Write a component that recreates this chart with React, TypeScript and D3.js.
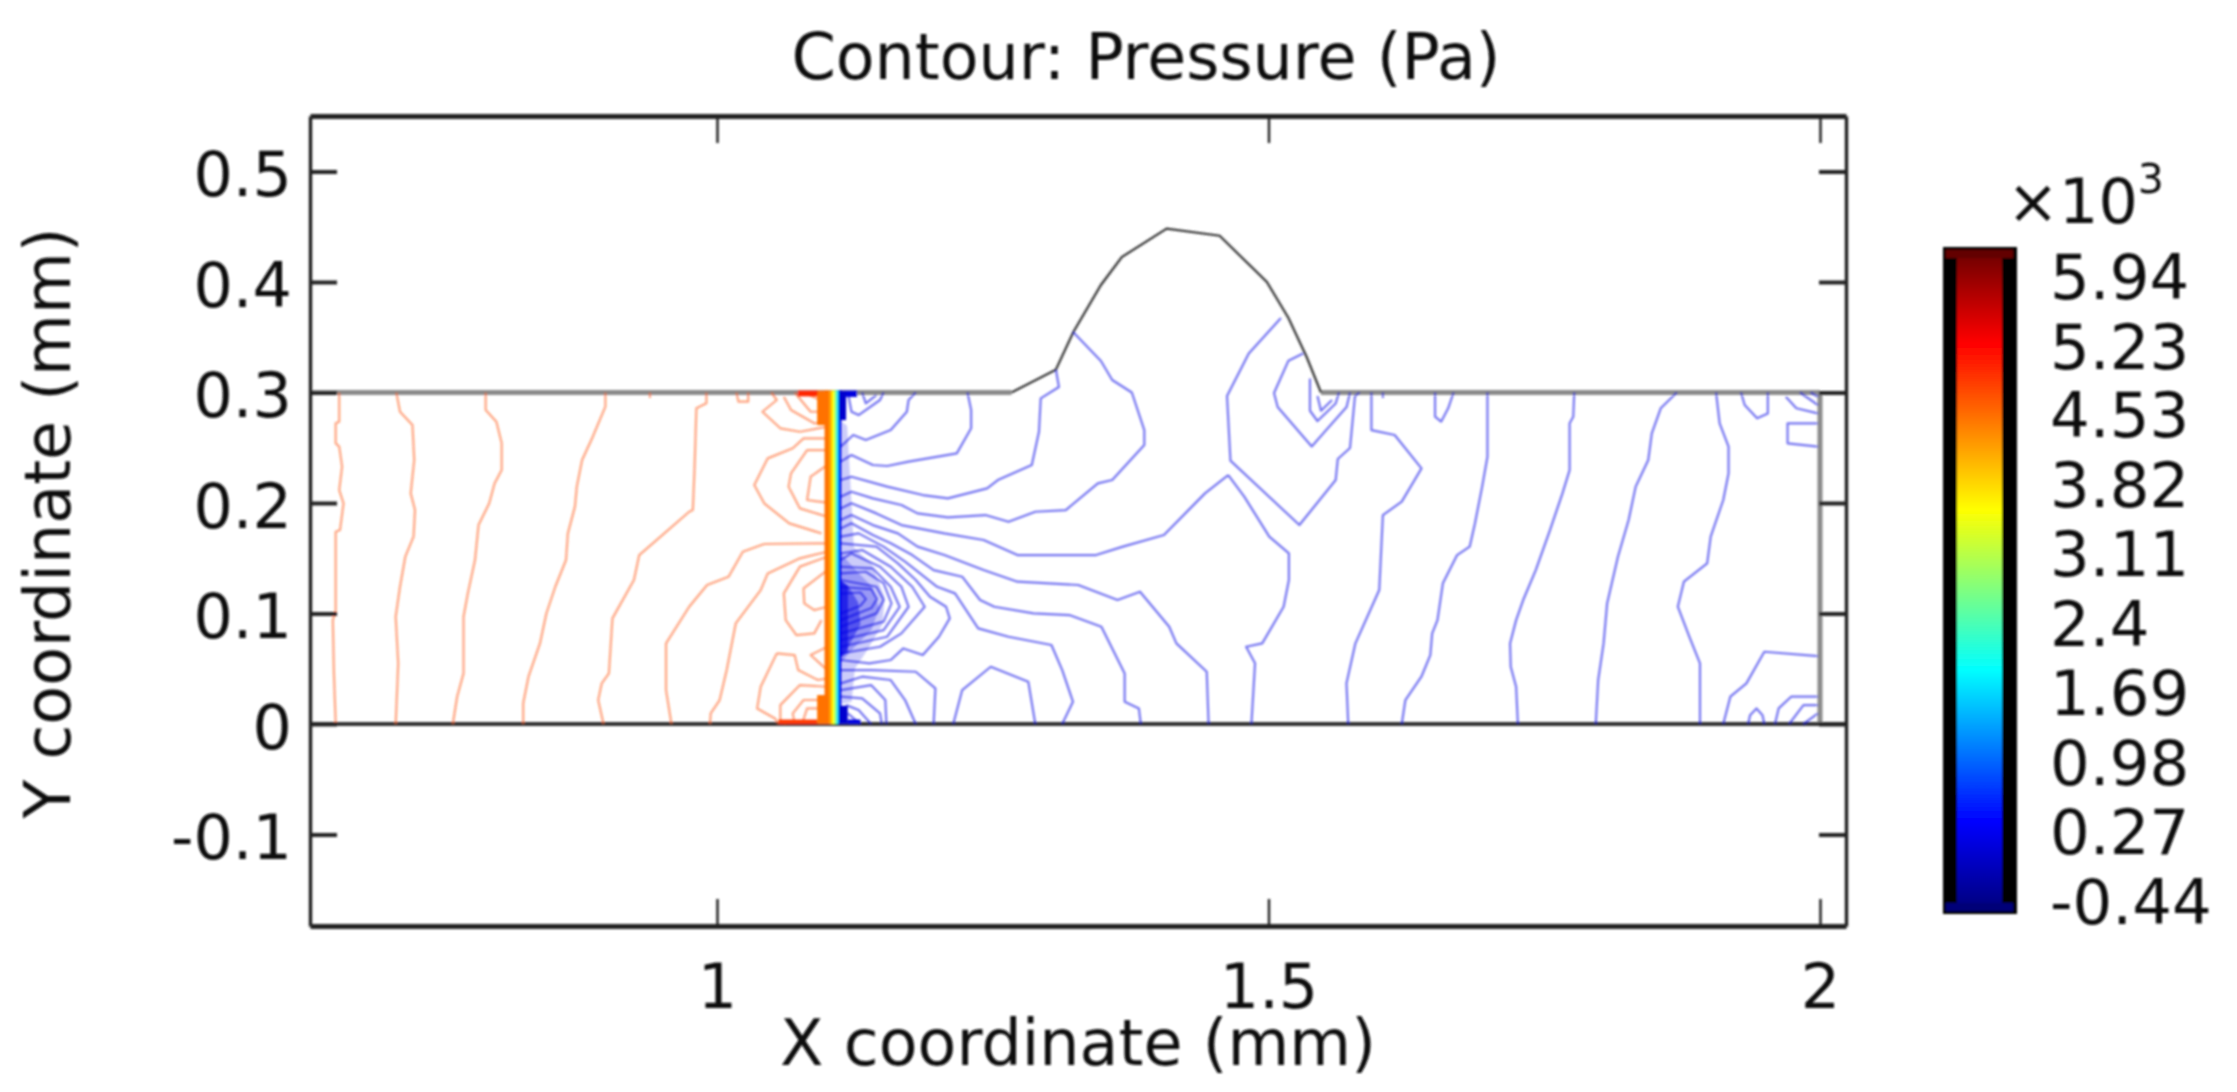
import { useEffect, useRef } from 'react';
import * as d3 from 'd3';

type Pt = [number, number];

const yTicks = [-0.1, 0, 0.1, 0.2, 0.3, 0.4, 0.5];
const xTicks = [1, 1.5, 2];
const barLabels = ['5.94', '5.23', '4.53', '3.82', '3.11', '2.4', '1.69', '0.98', '0.27', '-0.44'];

// jet ramp (x10^3 Pa)
const jetValues = [-0.587, 0.33, 1.9, 3.55, 5.27, 6.23];
const jetColors = ['#00007a', '#0000ff', '#00ffff', '#ffff00', '#ff0000', '#6a0000'];

// hill outline of the upper wall (mm)
const hill: Pt[] = [[1.267, 0.3], [1.3072, 0.3207], [1.3231, 0.3548], [1.3481, 0.3973], [1.367, 0.4226], [1.4077, 0.4483], [1.4557, 0.4419], [1.4985, 0.4], [1.5181, 0.3674], [1.5346, 0.3321], [1.5476, 0.3]];

// dense levels packed at the front, x position and level
const frontX = [1.0975, 1.1015, 1.104, 1.1065, 1.1085, 1.1095, 1.1106, 1.1122];
const frontLevel = [4.5, 4.2, 3.55, 2.7, 1.9, 1.1, 0.2, 0];

// merged contour patches in the corners of the front: x0, x1, y0, y1, level
const patches = [
  [1.0908, 1.1011, 0.2705, 0.3, 4.5],
  [1.0908, 1.1011, 0, 0.0262, 4.5],
  [1.0733, 1.0911, 0.2965, 0.3, 5.0],
  [1.0558, 1.0908, 0, 0.004, 4.9],
  [1.1106, 1.117, 0.275, 0.3, 0.0],
  [1.1106, 1.1185, 0, 0.0165, 0.0],
  [1.117, 1.127, 0.296, 0.3, 0.1],
  [1.1185, 1.13, 0, 0.004, 0.1],
];

// where the blue levels merge into a haze beside the front
const hazeLight: Pt[] = [[1.1118, 0.275], [1.118, 0.27], [1.122, 0.2], [1.124, 0.16], [1.14, 0.145], [1.152, 0.115], [1.15, 0.09], [1.135, 0.065], [1.125, 0.05], [1.122, 0.02], [1.1118, 0.018]];
const hazeMid: Pt[] = [[1.1118, 0.155], [1.125, 0.14], [1.14, 0.125], [1.147, 0.105], [1.14, 0.085], [1.125, 0.07], [1.1118, 0.055]];
const hazeDark: Pt[] = [[1.1118, 0.13], [1.119, 0.125], [1.128, 0.11], [1.13, 0.09], [1.119, 0.07], [1.1118, 0.06]];
const hazeCore: Pt[] = [[1.1118, 0.13], [1.1187, 0.125], [1.1187, 0.065], [1.1118, 0.06]];
const hazeOpacity = [0.2, 0.25, 0.45, 0.6];

const orangeContours: Pt[][] = [
  [[0.6575, 0.3], [0.6575, 0.2736], [0.6543, 0.2721], [0.6543, 0.254], [0.6575, 0.251], [0.6601, 0.2329], [0.6575, 0.2117], [0.6614, 0.1997], [0.6582, 0.1755], [0.6543, 0.174], [0.6543, 0.103], [0.6517, 0.094], [0.6527, 0.0458], [0.6543, 0]],
  [[0.7093, 0.3], [0.7126, 0.2826], [0.7239, 0.2706], [0.7255, 0.2389], [0.7223, 0.2087], [0.7262, 0.1936], [0.7249, 0.1695], [0.7174, 0.1514], [0.7126, 0.1242], [0.7087, 0.0971], [0.711, 0.0549], [0.7087, 0]],
  [[0.7903, 0.3], [0.7903, 0.2841], [0.8, 0.2736], [0.8048, 0.254], [0.8048, 0.2298], [0.7984, 0.2178], [0.7935, 0.1997], [0.7838, 0.18], [0.7806, 0.1484], [0.7741, 0.1182], [0.7702, 0.0971], [0.7702, 0.0458], [0.7644, 0.0247], [0.7605, 0]],
  [[0.8988, 0.3], [0.8988, 0.2872], [0.8874, 0.26], [0.8777, 0.2389], [0.8729, 0.2148], [0.8712, 0.1967], [0.8648, 0.1725], [0.8631, 0.1484], [0.8534, 0.1242], [0.8453, 0.1], [0.8395, 0.0729], [0.8291, 0.0428], [0.8243, 0.0187], [0.8243, 0]],
  [[0.9904, 0.3], [0.9904, 0.2902], [0.9813, 0.2857], [0.9797, 0.2329], [0.9781, 0.1936], [0.9748, 0.1921], [0.9295, 0.1529], [0.9247, 0.1303], [0.9052, 0.0956], [0.902, 0.0458], [0.8955, 0.0368], [0.8923, 0.0217], [0.8971, 0]],
  [[1.1, 0.1635], [1.0428, 0.1629], [1.0234, 0.1559], [1.0105, 0.1333], [0.991, 0.1258], [0.9748, 0.1061], [0.9538, 0.0729], [0.9538, 0.0307], [0.9587, 0]],
  [[1.1, 0.1559], [1.0752, 0.1499], [1.046, 0.1363], [1.0396, 0.1212], [1.017, 0.091], [1.0088, 0.0488], [1.0024, 0.0217], [0.9943, 0.0096], [0.9936, 0]],
  [[1.1, 0.2585], [1.0785, 0.2585], [1.0687, 0.2495], [1.046, 0.2404], [1.0338, 0.2163], [1.0428, 0.1997], [1.0655, 0.1816], [1.0947, 0.1725]],
  [[1.1, 0.2479], [1.0817, 0.2479], [1.0671, 0.2268], [1.0649, 0.2148], [1.0752, 0.1951], [1.1, 0.1876]],
  [[1.1, 0.2344], [1.0849, 0.2238], [1.0817, 0.2027], [1.1, 0.2003]],
  [[1.0493, 0.3], [1.0542, 0.2932], [1.0412, 0.2826], [1.0574, 0.2676], [1.0752, 0.2645], [1.1, 0.269]],
  [[1.0606, 0.2962], [1.0671, 0.2841], [1.0882, 0.2721], [1.1, 0.2736]],
  [[1.0704, 0.3], [1.0849, 0.2826], [1.1, 0.2826]],
  [[1.0785, 0.3], [1.1, 0.2902]],
  [[1.0176, 0.3], [1.0195, 0.2917], [1.0283, 0.2917], [1.0283, 0.3]],
  [[0.9392, 0.3], [0.9392, 0.295]],
  [[1.1, 0.1514], [1.0752, 0.1424], [1.0606, 0.1182], [1.0623, 0.094], [1.072, 0.0805], [1.0882, 0.082], [1.0947, 0.094]],
  [[1.1, 0.1393], [1.0785, 0.1227], [1.0791, 0.1092], [1.0882, 0.1031], [1.1, 0.1061]],
  [[1.1, 0.0699], [1.0849, 0.0624], [1.1, 0.0488]],
  [[1.0542, 0.0639], [1.0704, 0.0624], [1.0736, 0.0488], [1.0914, 0.0398], [1.1, 0.0413]],
  [[1.0542, 0.0639], [1.0396, 0.0337], [1.0364, 0.0141], [1.0526, 0.005], [1.0558, 0]],
  [[1.1, 0.0337], [1.0752, 0.0352], [1.0574, 0.0171], [1.0574, 0.0036], [1.0623, 0]],
  [[1.1, 0.0217], [1.0785, 0.0217], [1.0687, 0.0096], [1.0704, 0]],
  [[1.1, 0.0141], [1.0817, 0.0141], [1.0771, 0]],
];

const blueContours: Pt[][] = [
  [[1.1802, 0.3], [1.1737, 0.2932], [1.1721, 0.2826], [1.1575, 0.266], [1.1349, 0.257], [1.1235, 0.2615], [1.1122, 0.251]],
  [[1.2271, 0.3], [1.2304, 0.2841], [1.2304, 0.2676], [1.2174, 0.2449], [1.1737, 0.2374], [1.1543, 0.2335], [1.1413, 0.2344], [1.1219, 0.2434], [1.1122, 0.2374]],
  [[1.3073, 0.3204], [1.31, 0.305], [1.2935, 0.2947], [1.2919, 0.2645], [1.2854, 0.2344], [1.2546, 0.2208], [1.2449, 0.2132], [1.2093, 0.2042], [1.1866, 0.2072], [1.1543, 0.2148], [1.1219, 0.2238], [1.1122, 0.2208]],
  [[1.3228, 0.3548], [1.3481, 0.3285], [1.3583, 0.3113], [1.3761, 0.3], [1.3874, 0.266], [1.3874, 0.2525], [1.3583, 0.2208], [1.3453, 0.2178], [1.3162, 0.1936], [1.2886, 0.1921], [1.2643, 0.183], [1.2433, 0.1891], [1.2093, 0.187], [1.1818, 0.1906], [1.1672, 0.1982], [1.1413, 0.2042], [1.1219, 0.2102], [1.1122, 0.2057]],
  [[1.4635, 0.2253], [1.4424, 0.2087], [1.4052, 0.171], [1.368, 0.1605], [1.3437, 0.1529], [1.2724, 0.1529], [1.2417, 0.1665], [1.2061, 0.1725], [1.1672, 0.18], [1.1445, 0.1906], [1.1219, 0.1997], [1.1122, 0.1951]],
  [[1.4635, 0.2253], [1.478, 0.2057], [1.5007, 0.1695], [1.5185, 0.1544], [1.5185, 0.1303], [1.5137, 0.1061], [1.4943, 0.073], [1.4797, 0.0699], [1.4878, 0.0549], [1.4845, 0]],
  [[1.5113, 0.3674], [1.4821, 0.3352], [1.4624, 0.2968], [1.4655, 0.2383], [1.528, 0.1801], [1.5609, 0.2208], [1.5628, 0.2398], [1.5739, 0.2498], [1.5784, 0.2968], [1.5826, 0.3]],
  [[1.5313, 0.3352], [1.5181, 0.3288], [1.505, 0.2995], [1.5083, 0.2869], [1.5392, 0.2512], [1.5708, 0.2869], [1.5739, 0.3]],
  [[1.5376, 0.3126], [1.5376, 0.2835], [1.5444, 0.2742], [1.5609, 0.29], [1.5639, 0.3]],
  [[1.5444, 0.2968], [1.5476, 0.2835], [1.5576, 0.2932]],
  [[1.5933, 0.3], [1.5933, 0.266], [1.6144, 0.2615], [1.6387, 0.2313], [1.6208, 0.2012], [1.6037, 0.1891], [1.6004, 0.1212], [1.5788, 0.073], [1.5707, 0.0368], [1.5723, 0]],
  [[1.651, 0.3], [1.651, 0.2781], [1.6565, 0.2736], [1.6629, 0.2857], [1.6678, 0.3]],
  [[1.6037, 0.3], [1.6037, 0.295]],
  [[1.6985, 0.3], [1.6985, 0.2419], [1.6937, 0.2148], [1.6872, 0.1816], [1.6824, 0.1605], [1.671, 0.1529], [1.6581, 0.1273], [1.6532, 0.094], [1.6484, 0.082], [1.6467, 0.0624], [1.6386, 0.0428], [1.6241, 0.0217], [1.6208, 0]],
  [[1.7772, 0.3], [1.7763, 0.2781], [1.773, 0.2721], [1.773, 0.2298], [1.7665, 0.2087], [1.7552, 0.1755], [1.7423, 0.1393], [1.7309, 0.1122], [1.7245, 0.094], [1.719, 0.0729], [1.7196, 0.0518], [1.7245, 0.0337], [1.7261, 0]],
  [[1.8702, 0.3], [1.8556, 0.2857], [1.8475, 0.263], [1.8443, 0.2389], [1.8329, 0.2148], [1.8265, 0.1846], [1.8168, 0.1514], [1.807, 0.109], [1.8038, 0.0729], [1.7989, 0.0398], [1.7967, 0]],
  [[1.9058, 0.3], [1.909, 0.2721], [1.9171, 0.251], [1.9171, 0.2268], [1.9123, 0.2027], [1.9009, 0.1695], [1.8977, 0.1454], [1.8766, 0.1288], [1.8711, 0.1062], [1.8815, 0.079], [1.8912, 0.0549], [1.8912, 0]],
  [[1.9284, 0.3], [1.9317, 0.2887], [1.943, 0.2766], [1.9527, 0.2811], [1.9527, 0.3]],
  [[1.969, 0.2962], [1.9786, 0.2857], [1.9981, 0.2811]],
  [[1.9819, 0.3], [1.9981, 0.2887]],
  [[1.9915, 0.3], [1.9981, 0.2962]],
  [[1.9981, 0.2721], [1.9706, 0.2721], [1.9706, 0.254], [1.9981, 0.251]],
  [[1.9981, 0.0615], [1.9495, 0.0654], [1.9333, 0.0368], [1.9187, 0.0247], [1.9123, 0]],
  [[1.9349, 0], [1.9366, 0.008], [1.9424, 0.0141], [1.9479, 0.008], [1.9495, 0]],
  [[1.9981, 0.0247], [1.9738, 0.0247], [1.9625, 0.0141], [1.9592, 0]],
  [[1.9981, 0.0171], [1.985, 0.0171], [1.972, 0]],
  [[1.9981, 0.0096], [1.985, 0]],
  [[1.4457, 0], [1.444, 0.0473], [1.4165, 0.073], [1.41, 0.088], [1.3835, 0.1197], [1.3631, 0.1122], [1.3275, 0.1258], [1.2724, 0.1288], [1.2417, 0.1393], [1.2061, 0.1529], [1.1818, 0.1605], [1.164, 0.1725], [1.1413, 0.18], [1.1219, 0.1891], [1.1122, 0.1846]],
  [[1.3842, 0], [1.3825, 0.0141], [1.3696, 0.0202], [1.3696, 0.0458], [1.3485, 0.088], [1.3194, 0.0986], [1.287, 0.1001], [1.2514, 0.1061], [1.2385, 0.1122], [1.2223, 0.1333], [1.1964, 0.1393], [1.177, 0.1529], [1.1575, 0.1635], [1.1413, 0.171], [1.1219, 0.1816], [1.1122, 0.177]],
  [[1.313, 0], [1.3227, 0.0202], [1.313, 0.0488], [1.3032, 0.0715], [1.2643, 0.079], [1.2368, 0.0865], [1.2158, 0.1182], [1.1996, 0.1242], [1.1705, 0.1469], [1.151, 0.1605], [1.1284, 0.1725], [1.1122, 0.1695]],
  [[1.2142, 0], [1.2223, 0.0307], [1.2482, 0.0518], [1.2822, 0.0383], [1.2886, 0]],
  [[1.1122, 0.0488], [1.1413, 0.0488], [1.1802, 0.0473], [1.198, 0.0322], [1.1964, 0]],
  [[1.1802, 0], [1.1705, 0.0217], [1.1575, 0.0398], [1.1316, 0.0428], [1.1122, 0.0368]],
  [[1.1536, 0], [1.1526, 0.0217], [1.1397, 0.0352], [1.1122, 0.0307]],
  [[1.1122, 0.0247], [1.1316, 0.0232], [1.1478, 0.0096], [1.1494, 0]],
  [[1.1171, 0.0171], [1.1284, 0.0126], [1.1397, 0]],
  [[1.1186, 0.0096], [1.13, 0]],
  [[1.1186, 0.3], [1.1219, 0.2826], [1.1284, 0.2796], [1.1478, 0.2932], [1.151, 0.3]],
  [[1.1316, 0.3], [1.1349, 0.2902], [1.1445, 0.2977]],
  [[1.1122, 0.0579], [1.1381, 0.0549], [1.1575, 0.0579], [1.1689, 0.0684], [1.1866, 0.0624], [1.2012, 0.079], [1.211, 0.0956], [1.2077, 0.1061], [1.1931, 0.1152], [1.1802, 0.1303], [1.164, 0.1454], [1.1446, 0.1605], [1.1122, 0.1635]],
  [[1.1122, 0.0639], [1.1478, 0.0699], [1.1672, 0.082], [1.1883, 0.1061], [1.177, 0.1242], [1.1575, 0.1423], [1.1316, 0.1574], [1.1122, 0.1544]],
  [[1.1122, 0.0699], [1.1543, 0.079], [1.1737, 0.1061], [1.1672, 0.1242], [1.1478, 0.1423], [1.1219, 0.1544], [1.1122, 0.1484]],
  [[1.1122, 0.076], [1.1511, 0.085], [1.1656, 0.1061], [1.1575, 0.1242], [1.1413, 0.1408], [1.1122, 0.1423]],
  [[1.1122, 0.082], [1.1511, 0.0926], [1.1582, 0.1092], [1.1511, 0.1273], [1.1349, 0.1378], [1.1122, 0.1363]],
  [[1.1122, 0.088], [1.1446, 0.1001], [1.1511, 0.1122], [1.1446, 0.1242], [1.1122, 0.1303]],
  [[1.1122, 0.094], [1.14, 0.105], [1.145, 0.113], [1.14, 0.122], [1.1122, 0.124]],
  [[1.1122, 0.1], [1.13, 0.107], [1.135, 0.113], [1.13, 0.119], [1.1122, 0.118]],
];

const ORANGE = '#ff5a14';
const BLUE = '#0000e6';
const FONT = '"DejaVu Sans", sans-serif';

export default function App() {
  const svgRef = useRef<SVGSVGElement>(null);

  useEffect(() => {
    if (!svgRef.current) return;
    const root = d3.select(svgRef.current);
    root.selectAll('*').remove();

    // the source is a soft, upscaled raster
    root.append('defs').append('filter')
      .attr('id', 'soft')
      .attr('filterUnits', 'userSpaceOnUse')
      .attr('x', 0).attr('y', 0).attr('width', 2237).attr('height', 1092)
      .append('feGaussianBlur').attr('stdDeviation', 0.9);
    const svg = root.append('g').attr('filter', 'url(#soft)');

    const x = d3.scaleLinear().domain([1, 2]).range([717, 1820]);
    const y = d3.scaleLinear().domain([0, 0.5]).range([724, 171.5]);
    const left = x.invert(310);
    const right = x.invert(1846);
    const top = y.invert(116);
    const bottom = y.invert(926);
    const line = d3.line<Pt>().x(d => x(d[0])).y(d => y(d[1]));

    const color = d3.scaleLinear<string>().domain(jetValues).range(jetColors).interpolate(d3.interpolateRgb);

    // grey flats of the top wall, lower wall, outlet
    const flats: Pt[][] = [[[left, 0.3], hill[0]], [hill[hill.length - 1], [2, 0.3]], [[2, 0.3], [2, 0]]];
    svg.selectAll('.flat').data(flats).enter().append('path')
      .attr('d', d => line(d))
      .attr('fill', 'none')
      .attr('stroke', '#8a8a8a')
      .attr('stroke-width', 5);

    svg.append('path')
      .attr('d', line(hill))
      .attr('fill', 'none')
      .attr('stroke', '#333')
      .attr('stroke-width', 2.2);

    svg.append('path')
      .attr('d', line([[left, 0], [right, 0]]))
      .attr('stroke', '#333')
      .attr('stroke-width', 4);

    // haze then contours
    svg.append('g').selectAll('path').data([hazeLight, hazeMid, hazeDark, hazeCore]).enter().append('path')
      .attr('d', d => `${line(d)}Z`)
      .attr('fill', BLUE)
      .attr('fill-opacity', (_, i) => hazeOpacity[i]);

    const drawContours = (rows: Pt[][], stroke: string) => {
      svg.append('g').selectAll('path').data(rows).enter().append('path')
        .attr('d', d => line(d))
        .attr('fill', 'none')
        .attr('stroke', stroke)
        .attr('stroke-opacity', 0.55)
        .attr('stroke-width', 2.2)
        .attr('stroke-linejoin', 'round');
    };
    drawContours(orangeContours, ORANGE);
    drawContours(blueContours, BLUE);

    // the pressure jump: levels too tight to separate
    svg.append('g').selectAll('rect').data(frontX.slice(0, -1)).enter().append('rect')
      .attr('x', d => x(d))
      .attr('y', y(0.3) - 2)
      .attr('width', (d, i) => x(frontX[i + 1]) - x(d) + 0.5)
      .attr('height', y(0) - y(0.3) + 2)
      .attr('fill', (_, i) => color(frontLevel[i]));

    svg.append('g').selectAll('rect').data(patches).enter().append('rect')
      .attr('x', d => x(d[0]))
      .attr('y', d => y(d[3]) - (d[3] === 0.3 ? 2 : 0))
      .attr('width', d => x(d[1]) - x(d[0]))
      .attr('height', d => y(d[2]) - y(d[3]) + (d[3] === 0.3 ? 2 : 0))
      .attr('fill', d => color(d[4]));

    // frame, ticks through d3 axes
    const styleAxis = (g: d3.Selection<SVGGElement, unknown, null, undefined>, width: number) => {
      g.selectAll('.domain').attr('stroke', '#222').attr('stroke-width', width);
      g.selectAll('.tick line').attr('stroke', '#222').attr('stroke-width', 4);
      g.selectAll('.tick text').attr('fill', '#111').attr('font-size', 62).attr('font-family', FONT);
    };
    const xFrame = d3.scaleLinear().domain([left, right]).range([310, 1846]);
    const yFrame = d3.scaleLinear().domain([bottom, top]).range([926, 116]);

    const axisB = svg.append('g').attr('transform', 'translate(0,926)')
      .call(d3.axisBottom(xFrame).tickValues(xTicks).tickSizeInner(-27).tickSizeOuter(0).tickPadding(38).tickFormat(d => String(d)));
    styleAxis(axisB, 5);
    axisB.selectAll('.tick line').attr('stroke-width', 2.5);

    const axisT = svg.append('g').attr('transform', 'translate(0,116)')
      .call(d3.axisTop(xFrame).tickValues(xTicks).tickSizeInner(-27).tickSizeOuter(0).tickFormat(() => ''));
    styleAxis(axisT, 5);
    axisT.selectAll('.tick line').attr('stroke-width', 2.5);

    const axisL = svg.append('g').attr('transform', 'translate(310,0)')
      .call(d3.axisLeft(yFrame).tickValues(yTicks).tickSizeInner(-27).tickSizeOuter(0).tickPadding(18).tickFormat(d => String(d)));
    styleAxis(axisL, 3.5);
    axisL.selectAll('.tick text').attr('dy', '0.39em');

    const axisR = svg.append('g').attr('transform', 'translate(1846,0)')
      .call(d3.axisRight(yFrame).tickValues(yTicks).tickSizeInner(-27).tickSizeOuter(0).tickFormat(() => ''));
    styleAxis(axisR, 3.5);

    // titles
    const label = (txt: string, px: number, py: number, rotate = false) =>
      svg.append('text')
        .attr('transform', `translate(${px},${py})${rotate ? ' rotate(-90)' : ''}`)
        .attr('text-anchor', 'middle')
        .attr('font-family', FONT)
        .attr('font-size', 63.5)
        .attr('fill', '#111')
        .text(txt);
    label('Contour: Pressure (Pa)', 1146, 79);
    label('X coordinate (mm)', 1078, 1065);
    label('Y coordinate (mm)', 70, 523, true);

    // colour bar
    const barY = d3.scaleLinear().domain([-0.587, 6.23]).range([914, 247]);
    const grad = root.select('defs').append('linearGradient')
      .attr('id', 'jet').attr('x1', 0).attr('y1', 1).attr('x2', 0).attr('y2', 0);
    jetValues.forEach((v, i) => {
      grad.append('stop')
        .attr('offset', (v - jetValues[0]) / (jetValues[jetValues.length - 1] - jetValues[0]))
        .attr('stop-color', jetColors[i]);
    });
    svg.append('rect').attr('x', 1943).attr('y', barY(6.23)).attr('width', 74).attr('height', barY(-0.587) - barY(6.23)).attr('fill', '#000');
    svg.append('rect').attr('x', 1957).attr('y', barY(6.23) + 3).attr('width', 45).attr('height', barY(-0.587) - barY(6.23) - 6).attr('fill', 'url(#jet)');
    svg.append('rect').attr('x', 1946).attr('y', barY(6.23) + 3).attr('width', 67).attr('height', 8).attr('fill', '#640000');
    svg.append('rect').attr('x', 1946).attr('y', barY(-0.587) - 11).attr('width', 67).attr('height', 8).attr('fill', '#000078');

    const barTick = d3.scaleLinear().domain([5.94, -0.44]).range([275, 900]);
    svg.append('g').selectAll('text').data(barLabels).enter().append('text')
      .attr('x', 2050)
      .attr('y', d => barTick(+d) + 24)
      .attr('font-family', FONT)
      .attr('font-size', 62.5)
      .attr('fill', '#111')
      .text(d => d);

    const exp = svg.append('text')
      .attr('x', 2007).attr('y', 223)
      .attr('font-family', FONT).attr('font-size', 62).attr('fill', '#111');
    exp.append('tspan').text('×10');
    exp.append('tspan').attr('dy', -30).attr('font-size', 41).text('3');
  }, []);

  return (
    <svg
      ref={svgRef}
      width={2237}
      height={1092}
      style={{ position: 'absolute', left: 0, top: 0, background: '#fff' }}
    />
  );
}
